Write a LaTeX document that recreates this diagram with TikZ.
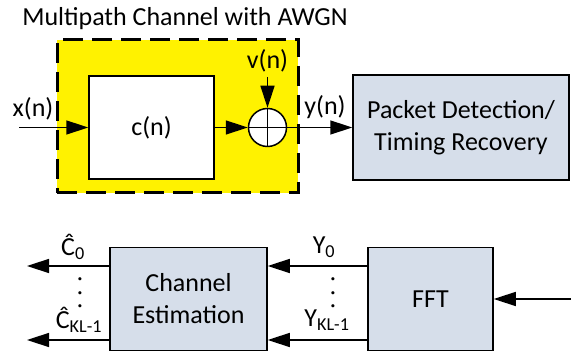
\documentclass[tikz,border=0pt]{standalone}
\usepackage{fontspec}
\setmainfont{Carlito}
\usetikzlibrary{arrows.meta}
\definecolor{boxblue}{RGB}{214,222,234}
\begin{document}
\begin{tikzpicture}[x=1pt,y=-1pt, line width=1.5pt,
  arr/.style={-{Triangle[length=22pt,width=14pt]}},
  font=\fontsize{26}{32}\selectfont,
  blk/.style={draw=black, line width=1.5pt, fill=boxblue, align=center, inner sep=0pt},
  lbl/.style={inner sep=0pt}]
\useasboundingbox (0,0) rectangle (571,352);
% title
\node[lbl] (title) at (185,19) {Multipath Channel with AWGN};
% channel region
\node[draw=black, fill=yellow, line width=3pt, dash pattern=on 20pt off 9pt,
      minimum width=241pt, minimum height=153pt, inner sep=0pt] (chan) at (177.5,116.5) {};
\node[draw=black, fill=white, line width=1.5pt, minimum width=125pt, minimum height=103pt, inner sep=0pt] (cn) at (151.5,127.5) {c(n)};
\node[draw=black, fill=white, circle, line width=1.5pt, minimum size=38pt, inner sep=0pt] (sum) at (267.5,127.5) {};
\draw[line width=1.5pt] (sum.north) -- (sum.south) (sum.west) -- (sum.east);
% packet detection
\node[blk, minimum width=216pt, minimum height=105pt] (pkt) at (461,127.5) {Packet Detection/\\Timing Recovery};
% input
\coordinate (xin) at (19,127.5);
\coordinate (vin) at (267.5,77);
\draw[arr] (xin) -- (cn.west);
\node[lbl] (xl) at (33,109) {x(n)};
\draw[arr] (cn.east) -- (sum.west);
\draw[arr] (vin) -- (sum.north);
\node[lbl] (vl) at (267.5,61) {v(n)};
\draw[arr] (sum.east) -- (pkt.west);
\node[lbl] (yl) at (325,107) {y(n)};
% bottom row
\node[blk, minimum width=157pt, minimum height=103pt] (ce) at (188.5,299) {Channel\\Estimation};
\node[blk, minimum width=125pt, minimum height=103pt] (fft) at (430.5,299) {FFT};
\coordinate (fin) at (571,299);
\draw[arr] (fin) -- (fft.east);
\draw[arr] (fft.west |- 0,266) -- (ce.east |- 0,266);
\draw[arr] (fft.west |- 0,340) -- (ce.east |- 0,340);
\coordinate (c0) at (27,266);
\coordinate (c1) at (27,340);
\draw[arr] (ce.west |- c0) -- (c0);
\draw[arr] (ce.west |- c1) -- (c1);
\node[lbl] (c0l) at (73,247) {Ĉ\textsubscript{0}};
\node[lbl] (cdots) at (80,293) {\rotatebox{90}{.\hspace{7pt}.\hspace{7pt}.}};
\node[lbl] (c1l) at (79,320) {Ĉ\textsubscript{KL-1}};
\node[lbl] (y0l) at (324,247) {Y\textsubscript{0}};
\node[lbl] (ydots) at (333,293) {\rotatebox{90}{.\hspace{7pt}.\hspace{7pt}.}};
\node[lbl] (y1l) at (327,320) {Y\textsubscript{KL-1}};
\end{tikzpicture}
\end{document}
